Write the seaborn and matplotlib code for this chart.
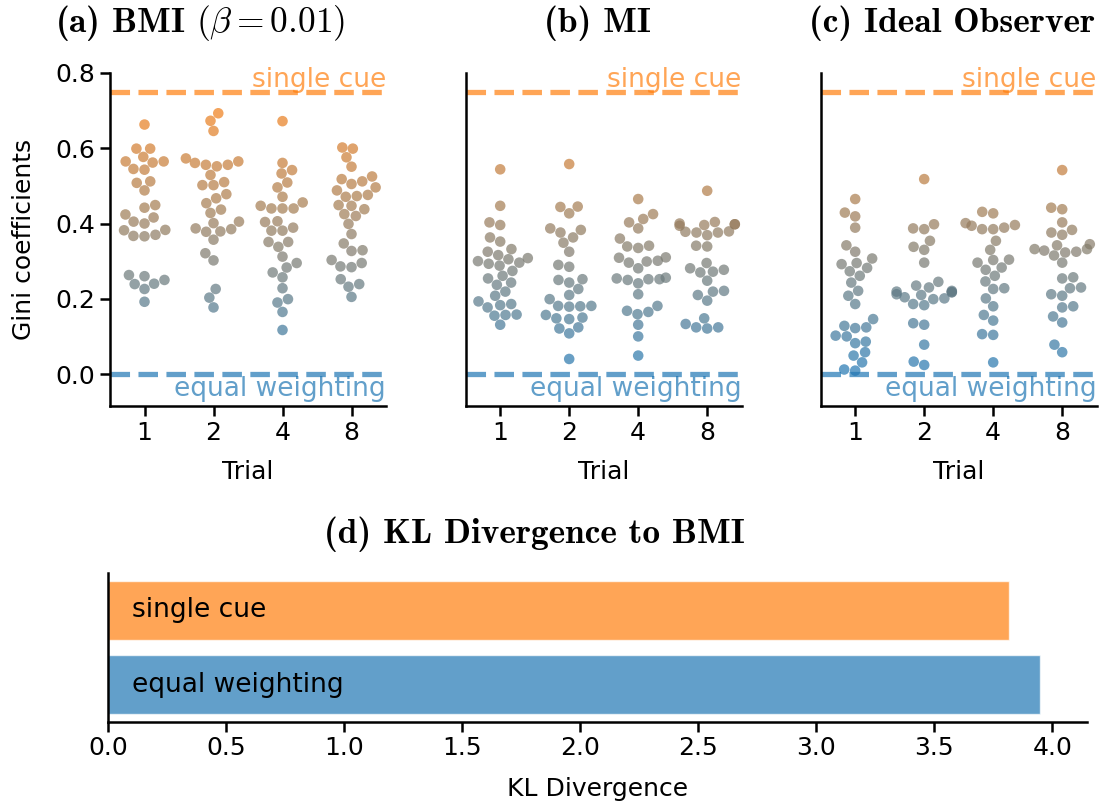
import pandas as pd
import seaborn as sns
import matplotlib.pyplot as plt
from matplotlib.colors import LinearSegmentedColormap
from matplotlib.transforms import blended_transform_factory

# Gini coefficients per trial
trials = ['1', '2', '4', '8']

bmi_t1 = [0.663, 0.599, 0.599, 0.577, 0.565, 0.565, 0.562, 0.545, 0.543, 0.512, 0.508, 0.488, 0.449, 0.442, 0.424,
          0.416, 0.405, 0.400, 0.383, 0.382, 0.370, 0.367, 0.366, 0.263, 0.260, 0.250, 0.240, 0.239, 0.226, 0.192]
bmi_t2 = [0.693, 0.673, 0.646, 0.573, 0.565, 0.561, 0.556, 0.556, 0.552, 0.529, 0.510, 0.502, 0.502, 0.478, 0.467,
          0.454, 0.437, 0.428, 0.401, 0.405, 0.385, 0.379, 0.378, 0.387, 0.357, 0.321, 0.302, 0.226, 0.203, 0.177]
bmi_t4 = [0.672, 0.561, 0.542, 0.533, 0.509, 0.496, 0.471, 0.456, 0.447, 0.440, 0.440, 0.440, 0.406, 0.404, 0.381,
          0.381, 0.389, 0.351, 0.351, 0.338, 0.312, 0.295, 0.283, 0.270, 0.257, 0.228, 0.199, 0.190, 0.165, 0.117]
bmi_t8 = [0.602, 0.599, 0.576, 0.551, 0.525, 0.518, 0.512, 0.505, 0.496, 0.488, 0.476, 0.473, 0.471, 0.449, 0.447,
          0.438, 0.425, 0.420, 0.399, 0.372, 0.347, 0.329, 0.327, 0.303, 0.295, 0.286, 0.284, 0.252, 0.239, 0.232, 0.205]

mi_t1 = [0.544, 0.447, 0.403, 0.396, 0.363, 0.352, 0.332, 0.325, 0.316, 0.308, 0.305, 0.300, 0.296, 0.293, 0.288,
         0.274, 0.261, 0.254, 0.243, 0.237, 0.219, 0.208, 0.193, 0.186, 0.183, 0.177, 0.158, 0.157, 0.155, 0.131]
mi_t2 = [0.558, 0.445, 0.444, 0.427, 0.387, 0.383, 0.376, 0.363, 0.349, 0.325, 0.290, 0.285, 0.252, 0.250, 0.243,
         0.226, 0.210, 0.199, 0.181, 0.181, 0.180, 0.179, 0.157, 0.150, 0.148, 0.146, 0.124, 0.121, 0.108, 0.040]
mi_t4 = [0.465, 0.425, 0.412, 0.403, 0.387, 0.360, 0.341, 0.339, 0.335, 0.310, 0.309, 0.301, 0.299, 0.296, 0.281,
         0.256, 0.254, 0.252, 0.252, 0.250, 0.241, 0.212, 0.181, 0.168, 0.165, 0.159, 0.131, 0.100, 0.049]
mi_t8 = [0.487, 0.404, 0.400, 0.398, 0.398, 0.396, 0.394, 0.379, 0.378, 0.376, 0.376, 0.369, 0.341, 0.339, 0.295,
         0.281, 0.277, 0.272, 0.270, 0.248, 0.221, 0.219, 0.210, 0.195, 0.148, 0.133, 0.124, 0.124, 0.121]

io_t1 = [0.465, 0.429, 0.419, 0.389, 0.342, 0.325, 0.307, 0.295, 0.292, 0.282, 0.273, 0.261, 0.243, 0.221, 0.208,
         0.186, 0.146, 0.128, 0.124, 0.122, 0.102, 0.100, 0.086, 0.082, 0.058, 0.049, 0.031, 0.012, 0.009]
io_t2 = [0.518, 0.398, 0.387, 0.385, 0.354, 0.338, 0.330, 0.296, 0.245, 0.235, 0.230, 0.221, 0.219, 0.218, 0.217,
         0.212, 0.210, 0.204, 0.201, 0.199, 0.186, 0.183, 0.135, 0.131, 0.078, 0.033, 0.024]
io_t4 = [0.431, 0.427, 0.401, 0.396, 0.394, 0.389, 0.385, 0.385, 0.354, 0.330, 0.304, 0.303, 0.296, 0.283, 0.277,
         0.261, 0.246, 0.228, 0.226, 0.201, 0.180, 0.157, 0.142, 0.106, 0.104, 0.031]
io_t8 = [0.542, 0.442, 0.438, 0.403, 0.383, 0.376, 0.370, 0.345, 0.342, 0.332, 0.332, 0.328, 0.325, 0.323, 0.315,
         0.296, 0.257, 0.254, 0.230, 0.228, 0.212, 0.208, 0.180, 0.177, 0.153, 0.137, 0.078, 0.058]

# reference levels
single_cue_gini = 0.75
equal_weighting_gini = 0.0

# KL divergence to BMI
kl_labels = ['single cue', 'equal weighting']
kl_values = [3.817, 3.947]

titles = [r'(a) BMI $(\beta = 0.01)$', '(b) MI', '(c) Ideal Observer']
title_x = [0.326, 0.479, 0.476]

BLUE = '#1f77b4'
ORANGE = '#ff7f0e'


def to_long(cols):
    rows = []
    for trial, vals in zip(trials, cols):
        for v in vals:
            rows.append({'trial': trial, 'gini': v})
    return pd.DataFrame(rows)


panels = [
    to_long([bmi_t1, bmi_t2, bmi_t4, bmi_t8]),
    to_long([mi_t1, mi_t2, mi_t4, mi_t8]),
    to_long([io_t1, io_t2, io_t4, io_t8]),
]

sns.set_style('ticks')
plt.rcParams['font.family'] = ['DejaVu Sans']
plt.rcParams['mathtext.fontset'] = 'cm'
plt.rcParams['axes.linewidth'] = 1.8
plt.rcParams['xtick.major.width'] = 1.8
plt.rcParams['ytick.major.width'] = 1.8
plt.rcParams['xtick.major.size'] = 7
plt.rcParams['ytick.major.size'] = 7
plt.rcParams['xtick.labelsize'] = 18
plt.rcParams['ytick.labelsize'] = 18
plt.rcParams['axes.labelsize'] = 18
for key in ['text.color', 'axes.labelcolor', 'xtick.color', 'ytick.color', 'axes.edgecolor']:
    plt.rcParams[key] = 'black'

cmap = LinearSegmentedColormap.from_list('gini', [BLUE, ORANGE])

W, H = 1103, 805
fig = plt.figure(figsize=(W / 100, H / 100), dpi=100)

lefts = [110, 465.7, 820.7]
for i, (df, left) in enumerate(zip(panels, lefts)):
    ax = fig.add_axes([left / W, 1 - 406 / H, 276 / W, 333 / H])
    sns.swarmplot(data=df, x='trial', y='gini', hue='gini', palette=cmap, hue_norm=(0, 0.75),
                  size=7.6, alpha=0.7, linewidth=0, legend=False, order=trials, ax=ax)
    ax.axhline(single_cue_gini, color=ORANGE, alpha=0.7, lw=3.8, ls='--', zorder=0)
    ax.axhline(equal_weighting_gini, color=BLUE, alpha=0.7, lw=3.8, ls='--', zorder=0)
    tr = blended_transform_factory(ax.transAxes, ax.transData)
    ax.text(1.0, single_cue_gini - 0.002, 'single cue', color=ORANGE, alpha=0.7, fontsize=19,
            ha='right', va='bottom', transform=tr)
    ax.text(1.0, equal_weighting_gini - 0.005, 'equal weighting', color=BLUE, alpha=0.7, fontsize=19,
            ha='right', va='top', transform=tr)
    ax.set_xlim(-0.5, 3.5)
    ax.set_ylim(-0.085, 0.8)
    ax.set_yticks([0.0, 0.2, 0.4, 0.6, 0.8])
    ax.set_xlabel('Trial', labelpad=11)
    if i == 0:
        ax.set_ylabel('Gini coefficients', labelpad=14)
    else:
        ax.set_ylabel('')
        ax.tick_params(axis='y', left=False, labelleft=False)
    ax.text(title_x[i], 1.15, titles[i], transform=ax.transAxes, fontsize=25.5, family='cmb10',
            ha='center', va='center')
    sns.despine(ax=ax)

# bottom panel
kl_df = pd.DataFrame({'model': kl_labels, 'kl': kl_values})
axb = fig.add_axes([108.3 / W, 1 - 721.7 / H, 978.4 / W, 148.4 / H])
sns.barplot(data=kl_df, x='kl', y='model', hue='model', palette=[ORANGE, BLUE], alpha=0.7,
            saturation=1, orient='h', width=0.8, legend=False, ax=axb)
for j, lab in enumerate(kl_labels):
    axb.text(0.1, j, lab, fontsize=19, ha='left', va='center', color='black')
axb.set_xlim(0, 4.146)
axb.set_ylim(1.5, -0.5)
axb.set_ylabel('')
axb.set_yticks([])
axb.set_xticks([0.0, 0.5, 1.0, 1.5, 2.0, 2.5, 3.0, 3.5, 4.0])
axb.set_xlabel('KL Divergence', labelpad=12)
axb.text(0.436, 1.26, '(d) KL Divergence to BMI', transform=axb.transAxes, family='cmb10',
         fontsize=25.5, ha='center', va='center')
sns.despine(ax=axb)

fig.savefig('out.png', dpi=100)
